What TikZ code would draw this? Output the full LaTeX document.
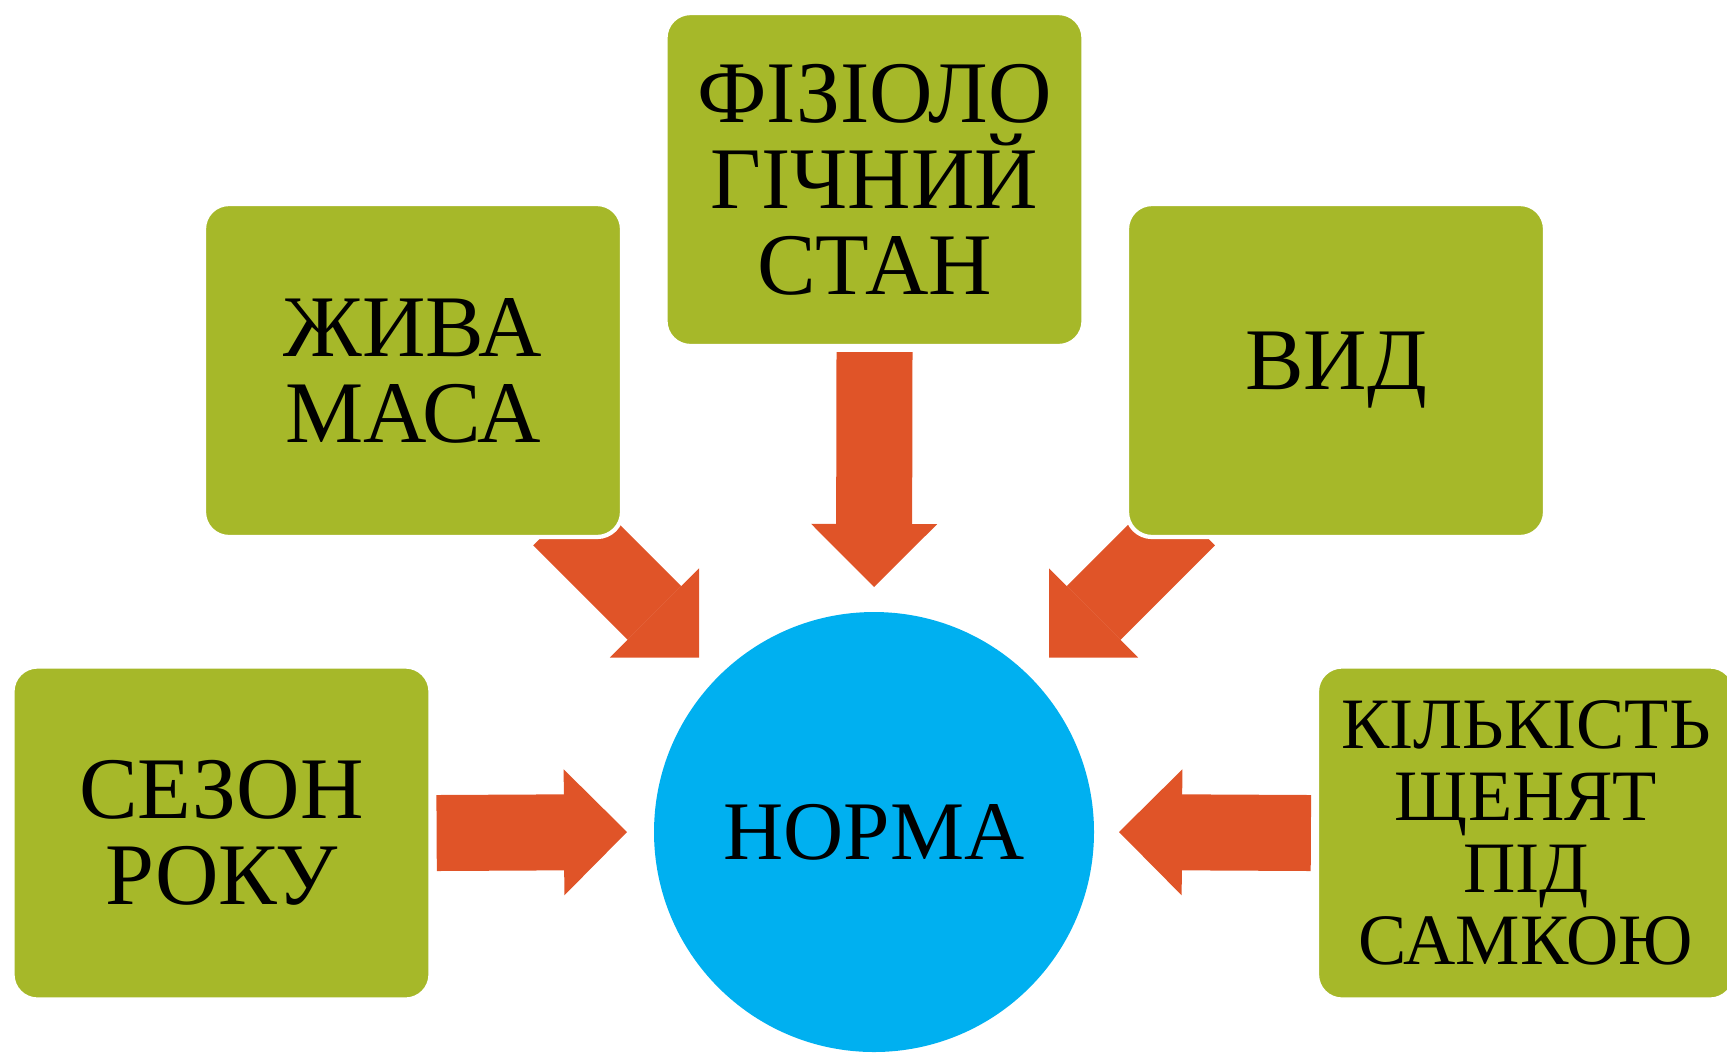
\documentclass[tikz,border=0pt]{standalone}
\usepackage{fontspec}
\setmainfont{Liberation Serif}
\usetikzlibrary{arrows.meta}
\usetikzlibrary{backgrounds}

\definecolor{boxgreen}{RGB}{166,184,41}
\definecolor{arrowred}{RGB}{224,84,40}
\definecolor{normablue}{RGB}{0,176,240}

\tikzset{
    factor/.style={rounded corners=0.25cm, fill=boxgreen, draw=white, line width=1.2pt,
        minimum width=4.18cm, minimum height=3.33cm, inner sep=0pt, align=center,
        font=\fontsize{25}{24.5}\selectfont},
    norm/.style={circle, fill=normablue, minimum size=4.4cm, inner sep=0pt,
        font=\fontsize{23.7}{24}\selectfont},
    blockarrow/.style={draw=arrowred, line width=0.76cm,
        -{Triangle[length=0.63cm, width=1.26cm, line width=0pt]}}
}

\begin{document}
\begin{tikzpicture}
    \useasboundingbox (0,0) rectangle (17.27,-10.53);

    % Centre
    \node[norm] (norma) at (8.74,-8.32) {НОРМА};

    % Factors
    \node[factor] (mass) at (4.13,-3.705) {ЖИВА\\МАСА};
    \node[factor] (physio) at (8.745,-1.795) {ФІЗІОЛО\\ГІЧНИЙ\\СТАН};
    \node[factor] (species) at (13.36,-3.705) {ВИД};
    \node[factor] (season) at (2.215,-8.33) {СЕЗОН\\РОКУ};
    \node[factor, font=\fontsize{20.6}{20.5}\selectfont] (pups) at (15.26,-8.33) {КІЛЬКІСТЬ\\ЩЕНЯТ\\ПІД\\САМКОЮ};

    % Arrow ends
    \coordinate (massout) at (5.60,-5.185);
    \coordinate (massin) at (6.99,-6.575);
    \coordinate (speciesout) at (11.88,-5.185);
    \coordinate (speciesin) at (10.49,-6.575);
    \coordinate (physioin) at (8.74,-5.87);
    \coordinate (seasonin) at (6.27,-8.32);
    \coordinate (pupsin) at (11.19,-8.32);

    % Arrows
    \begin{scope}[on background layer]
        \draw[blockarrow] ([yshift=-0.04cm]physio.south) -- (physioin);
        \draw[blockarrow] (massout) -- (massin);
        \draw[blockarrow] (speciesout) -- (speciesin);
        \draw[blockarrow] ([xshift=0.04cm]season.east) -- (seasonin);
        \draw[blockarrow] ([xshift=-0.04cm]pups.west) -- (pupsin);
    \end{scope}
\end{tikzpicture}
\end{document}
